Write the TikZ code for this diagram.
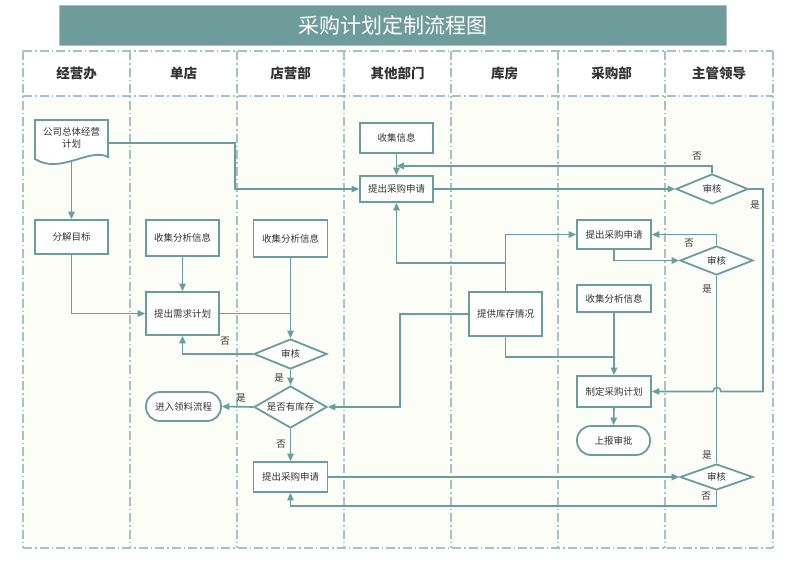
\documentclass[tikz,border=0pt]{standalone}
\usepackage{fontspec}
\setmainfont{Noto Sans CJK SC}
\usetikzlibrary{arrows.meta,shapes.geometric}
\definecolor{lc}{HTML}{6A9E9E}
\definecolor{lanec}{HTML}{A3C4C4}
\definecolor{titlec}{HTML}{6E9C9B}
\definecolor{bodyc}{HTML}{FDFDF8}
\definecolor{tc}{HTML}{333333}
\tikzset{
  box/.style={draw=lc, fill=white, line width=1.8pt, inner sep=0pt, text=tc, align=center,
    font=\fontsize{9.5}{12}\selectfont},
  sz/.style 2 args={minimum width=#1pt, minimum height=#2pt},
  dia/.style={diamond, aspect=2.5, draw=lc, fill=white, line width=1.8pt, inner sep=0pt, text=tc,
    font=\fontsize{9.5}{12}\selectfont},
  term/.style={box, rounded corners=14pt},
  conn/.style={draw=lc, line width=1.6pt},
  arr/.style={conn, -{Triangle[length=7.5pt, width=6.5pt]}},
  lane/.style={draw=lanec, line width=1.2pt, dash pattern=on 9pt off 3pt on 1.5pt off 3pt},
  hdr/.style={font=\fontsize{13.5}{16}\selectfont\bfseries, text=tc},
  lbl/.style={font=\fontsize{9.5}{12}\selectfont, text=tc, inner sep=0pt},
}
\begin{document}
\begin{tikzpicture}[x=1pt, y=-1pt]
\useasboundingbox (0,0) rectangle (800,560);
\fill[white] (0,0) rectangle (800,560);
% title
\node[fill=titlec, draw=lanec, line width=0.6pt, minimum width=667pt, minimum height=40pt, inner sep=0pt,
  text=white, font=\fontsize{21}{24}\selectfont] (title) at (392.5,25) {采购计划定制流程图};
% swimlanes
\fill[bodyc] (23,96) rectangle (773,548);
\foreach \x in {23,130,237,344,451,558,665,773} \draw[lane] (\x,51) -- (\x,548);
\foreach \y in {51,96,548} \draw[lane] (23,\y) -- (773,\y);
\node[hdr] (h1) at (76.5,73.5) {经营办};
\node[hdr] (h2) at (183.5,73.5) {单店};
\node[hdr] (h3) at (290.5,73.5) {店营部};
\node[hdr] (h4) at (397.5,73.5) {其他部门};
\node[hdr] (h5) at (504.5,73.5) {库房};
\node[hdr] (h6) at (611.5,73.5) {采购部};
\node[hdr] (h7) at (719,73.5) {主管领导};
% document shape
\filldraw[draw=lc, fill=white, line width=1.8pt] (35,120) -- (108,120) -- (108,157)
  .. controls (90,147) and (60,175) .. (35,159) -- cycle;
\node[box, draw=none, fill=none, sz={73}{46}] (doc) at (71.5,143) {};
\node[lbl, align=center] (doct) at (71.5,138) {公司总体经营\\计划};
% nodes
\node[box, sz={73}{34}] (fj) at (71.5,237) {分解目标};
\node[box, sz={73}{36}] (dd1) at (182.5,238) {收集分析信息};
\node[box, sz={73}{43}] (xq) at (182.5,313.5) {提出需求计划};
\node[box, sz={74}{37}] (dy1) at (290.5,238.5) {收集分析信息};
\node[box, sz={73}{30}] (sj) at (396.5,138) {收集信息};
\node[box, sz={73}{26}] (qt) at (396.5,189) {提出采购申请};
\node[box, sz={73}{44}] (tg) at (505.5,314) {提供库存情况};
\node[dia, minimum width=72pt, minimum height=30pt] (sh1) at (712,189) {审核};
\node[box, sz={74}{29}] (cg) at (614,234.5) {提出采购申请};
\node[dia, minimum width=73pt, minimum height=29pt] (sh2) at (716.5,260.5) {审核};
\node[box, sz={74}{27}] (cs) at (614,298.5) {收集分析信息};
\node[box, sz={74}{31}] (zd) at (614,391.5) {制定采购计划};
\node[term, sz={73}{29}] (sb) at (613.5,440.5) {上报审批};
\node[dia, minimum width=73pt, minimum height=26pt] (sh3) at (716.5,477) {审核};
\node[dia, minimum width=73pt, minimum height=30pt] (sh0) at (290.5,354) {审核};
\node[dia, minimum width=73pt, minimum height=42pt] (kc) at (290.5,407) {是否有库存};
\node[term, sz={75}{29}] (ll) at (183.5,406.5) {进入领料流程};
\node[box, sz={74}{30}] (dy2) at (290.5,477) {提出采购申请};
% connectors
\draw[arr] (doc.east) -- (235,143) |- (qt.west);
\draw[arr] ([yshift=6pt]doc.south) -- (fj.north);
\draw[arr] (fj.south) |- (xq.west);
\draw[arr] (dd1.south) -- (xq.north);
\draw[conn] (xq.east) -- (xq.east -| sh0.north);
\draw[arr] (dy1.south) -- (sh0.north);
\draw[arr] (sh0.west) -| (xq.south);
\draw[arr] (sh0.south) -- (kc.north);
\draw[arr] (kc.west) -- (ll.east);
\draw[arr] (kc.south) -- (dy2.north);
\draw[arr] (tg.west) -- (400,314) |- (kc.east);
\draw[arr] (tg.north) |- (cg.west);
\draw[arr] ([yshift=28pt]tg.north) -| (qt.south);
\draw[arr] (sj.south) -- (qt.north);
\draw[arr] (qt.east) -- (sh1.west);
\draw[arr] (sh1.north) |- ([yshift=-12pt]sj.south);
\draw[arr] (sh1.east) -- (763,189) -- (763,391.5) -- (721,391.5)
  arc[start angle=0, end angle=-180, radius=4] -- (zd.east);
\draw[arr] (cg.south) |- (sh2.west);
\draw[arr] (sh2.north) |- (cg.east);
\draw[conn] (sh2.south) -- (sh3.north);
\draw[arr] (cs.south) -- (zd.north);
\draw[conn] (tg.south) |- ([yshift=-44pt]cs.south);
\draw[arr] (zd.south) -- (sb.north);
\draw[arr] (dy2.east) -- (sh3.west);
\draw[arr] (sh3.south) -- (716.5,506) -| (dy2.south);
% labels
\node[lbl] (l1) at (225,341) {否};
\node[lbl] (l2) at (279,378) {是};
\node[lbl] (l3) at (241,398) {是};
\node[lbl] (l4) at (281,444) {否};
\node[lbl] (l5) at (697,156) {否};
\node[lbl] (l6) at (755,205) {是};
\node[lbl] (l7) at (689,243) {否};
\node[lbl] (l8) at (707,289) {是};
\node[lbl] (l9) at (707,455) {是};
\node[lbl] (l10) at (706,496) {否};
\end{tikzpicture}
\end{document}
